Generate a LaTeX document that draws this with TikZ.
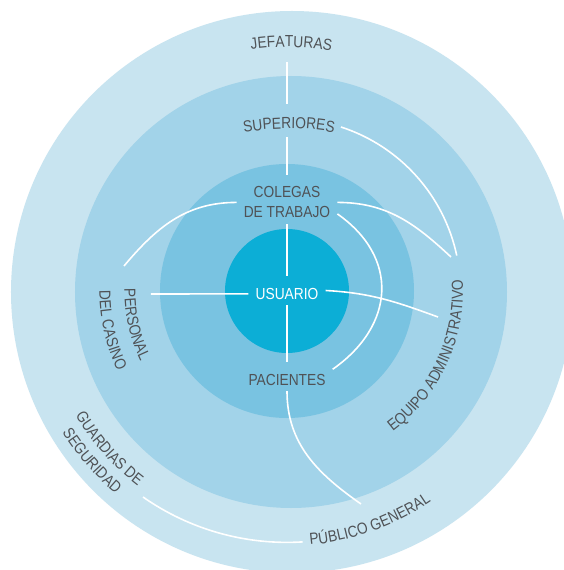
\documentclass[tikz,border=0pt]{standalone}
\usepackage{fontspec}
\setmainfont[FakeStretch=0.86]{Liberation Sans}
\usepackage{tikz}
\usetikzlibrary{decorations.text}

\definecolor{ringout}{HTML}{C8E4F0}
\definecolor{ringmid}{HTML}{A2D3E9}
\definecolor{ringin}{HTML}{79C3E1}
\definecolor{core}{HTML}{0CAED6}
\definecolor{txtgray}{HTML}{4F5256}

\newcommand\lblfont{\fontsize{16}{19}\selectfont}

\begin{document}
\begin{tikzpicture}[
        x=1pt, y=1pt,
        lbl/.style={font=\lblfont, text=txtgray, inner xsep=7pt, inner ysep=6pt,
            text height=17pt, text depth=0pt, anchor=base},
        link/.style={draw=white, line width=1.6pt},
        arclabel/.style={decorate, decoration={text along path, text align=center,
            text={|\lblfont\color{txtgray}|#1}}}
    ]
        \useasboundingbox (-287,-279) rectangle (276,291);
        \fill[white] (-287,-279) rectangle (276,291);

        % rings
        \fill[ringout] (5,-1) circle (281);
        \fill[ringmid] (4,-1) circle (216);
        \fill[ringin] (0,0) circle (127);
        \fill[core] (0,0) circle (62);

        \node[lbl] (col) at (0,93) {COLEGAS};
        \node[lbl] (trab) at (0,73) {DE TRABAJO};
        \node[lbl, text=white] (usr) at (0,-8) {USUARIO};
        \node[lbl] (pac) at (0,-94) {PACIENTES};

        \coordinate (jef) at (0,229);
        \coordinate (sup-n) at (0,187);
        \coordinate (sup-s) at (0,154);
        \coordinate (sup-e) at (54,164);
        \coordinate (cas) at (-136,-3);
        \coordinate (cas-n) at (-163,25);
        \coordinate (adm-n) at (164,34);
        \coordinate (adm-w) at (151,-26);
        \coordinate (pub) at (74,-213);
        \coordinate (gua) at (-144,-206);

        \path[link]
            (jef) edge (sup-n)
            (sup-s) edge (col.north)
            (trab.south) edge (usr.north)
            (usr.south) edge (pac.north)
            (usr.185) edge (cas)
            (trab.172) edge[out=180, in=50] (cas-n)
            (trab.8) edge[out=0, in=137] (adm-n)
            (trab.-5) edge[out=-35, in=35, looseness=1.25] (pac.9)
            (usr.east) edge[out=-3, in=160] (adm-w)
            (pac.south) edge[out=-90, in=145] (pub);
        \draw[link] (sup-e) arc[start angle=72, end angle=12, radius=173];
        \draw[link] (gua) arc[start angle=235, end angle=273.6, radius=251];

        % curved labels
        \path[arclabel=JEFATURAS] (109:244) arc[start angle=109, end angle=69, radius=244];
        \path[arclabel=SUPERIORES] (-58.5,155.1) arc[start angle=104, end angle=76, radius=250];
        \path[arclabel={EQUIPO ADMINISTRATIVO}] (-65:176) arc[start angle=-65, end angle=15.6, radius=176];
        \path[arclabel=PERSONAL] (172:162.5) arc[start angle=172, end angle=213, radius=162.5];
        \path[arclabel={DEL CASINO}] (172:187.5) arc[start angle=172, end angle=213, radius=187.5];
        \path[arclabel={GUARDIAS DE}] (200:245.5) arc[start angle=200, end angle=243, radius=245.5];
        \path[arclabel=SEGURIDAD] (200:265.5) arc[start angle=200, end angle=242, radius=265.5];
        \path[arclabel={PÚBLICO GENERAL}] (-92:255) arc[start angle=-92, end angle=-48.4, radius=255];
    \end{tikzpicture}
\end{document}
